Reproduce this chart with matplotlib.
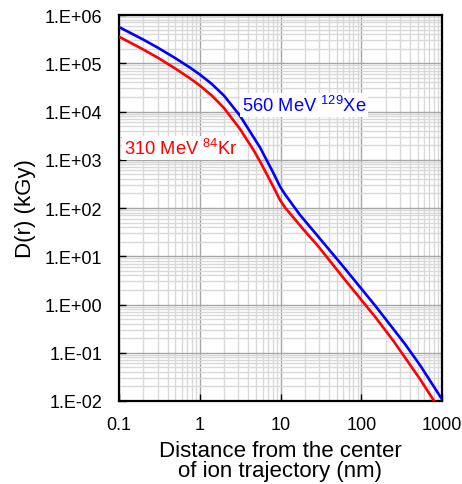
import matplotlib
matplotlib.use("Agg")
import matplotlib.pyplot as plt
from matplotlib.ticker import FixedLocator, FuncFormatter, LogLocator, NullFormatter
import numpy as np

plt.rcParams['font.family'] = ['Liberation Sans', 'DejaVu Sans']
plt.rcParams['mathtext.fontset'] = 'custom'
plt.rcParams['mathtext.rm'] = 'Liberation Sans'

# Data (distance nm, log10 dose kGy)
xe_r = [0.1, 0.2, 0.3, 0.5, 0.757, 1.0, 1.4, 2.0, 3.15, 5.57, 8.0, 9.86, 11.4, 17.4, 29.4, 63, 148, 348, 533, 1000]
xe_logd = [5.75, 5.49, 5.326, 5.104, 4.910, 4.768, 4.575, 4.327, 3.913, 3.256, 2.754, 2.445,
           2.281, 1.858, 1.404, 0.742, -0.019, -0.819, -1.254, -1.964]
kr_r = [0.1, 0.2, 0.3, 0.5, 0.757, 1.0, 1.4, 2.0, 3.15, 4.6, 5.57, 8.0, 9.86, 11.4, 19.2, 29.4, 63, 148, 250, 533, 780, 850]
kr_logd = [5.55, 5.285, 5.118, 4.889, 4.687, 4.539, 4.335, 4.071, 3.638, 3.209, 2.968, 2.466, 2.166,
           2.008, 1.556, 1.204, 0.509, -0.252, -0.754, -1.544, -1.973, -2.073]

xticks = [0.1, 1, 10, 100, 1000]
xticklabels = ['0.1', '1', '10', '100', '1000']
yticks = [1e-2, 1e-1, 1e0, 1e1, 1e2, 1e3, 1e4, 1e5, 1e6]

fig = plt.figure(figsize=(4.62, 4.85), dpi=100)
ax = fig.add_axes([119/462, 83/485, 323/462, 386/485])

ax.plot(kr_r, 10**np.array(kr_logd), color='#FF0000', lw=1.9, zorder=3,
        solid_joinstyle='round')
ax.plot(xe_r, 10**np.array(xe_logd), color='#0000FF', lw=1.9, zorder=3,
        solid_joinstyle='round')

ax.set_xscale('log')
ax.set_yscale('log')
ax.set_xlim(0.1, 1000)
ax.set_ylim(1e-2, 1e6)

ax.xaxis.set_major_locator(FixedLocator(xticks))
ax.xaxis.set_major_formatter(FuncFormatter(lambda v, p: xticklabels[p] if p is not None and p < len(xticklabels) else ''))
ax.yaxis.set_major_locator(FixedLocator(yticks))
ax.yaxis.set_major_formatter(FuncFormatter(lambda v, p: '1.E%+03d' % int(round(np.log10(v)))))
ax.xaxis.set_minor_locator(LogLocator(base=10, subs=np.arange(2, 10), numticks=20))
ax.yaxis.set_minor_locator(LogLocator(base=10, subs=np.arange(2, 10), numticks=20))
ax.xaxis.set_minor_formatter(NullFormatter())
ax.yaxis.set_minor_formatter(NullFormatter())

ax.grid(True, which='major', color='#a6a6a6', lw=1.0, zorder=0)
ax.grid(True, which='minor', color='#d9d9d9', lw=1.0, zorder=0)
ax.set_axisbelow(True)

ax.tick_params(which='major', direction='in', length=5, width=1, labelsize=13, color='black')
ax.tick_params(axis='y', which='major', pad=12)
ax.tick_params(axis='x', which='major', pad=11)
ax.tick_params(which='minor', length=0)
for s in ax.spines.values():
    s.set_linewidth(1.6)
    s.set_color('black')

ax.set_ylabel('D(r) (kGy)', fontsize=16, labelpad=6)
ax.set_xlabel('Distance from the center\nof ion trajectory (nm)', fontsize=16, linespacing=0.95, labelpad=5)

ax.text(242/462, 1-106/485, r'560 MeV $^{\mathrm{129}}$Xe', transform=fig.transFigure,
        color='#0000FF', fontsize=13.2, ha='left', va='center',
        bbox=dict(facecolor='white', edgecolor='none', pad=1.5), zorder=5)
ax.text(124/462, 1-149/485, r'310 MeV $^{\mathrm{84}}$Kr', transform=fig.transFigure,
        color='#FF0000', fontsize=13.2, ha='left', va='center',
        bbox=dict(facecolor='white', edgecolor='none', pad=1.5), zorder=5)

fig.savefig('out.png', dpi=100)
